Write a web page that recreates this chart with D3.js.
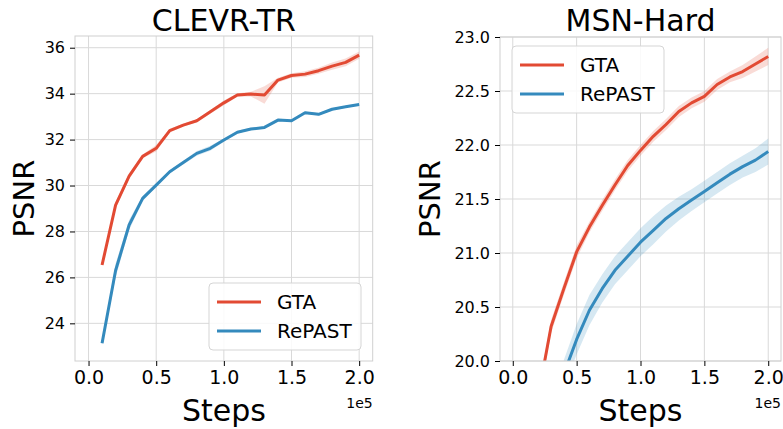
<!DOCTYPE html>
<html>
<head>
<meta charset="utf-8">
<script src="https://cdn.jsdelivr.net/npm/d3@7"></script>
<style>
  body { margin: 0; background: #fff; }
  text { font-family: "DejaVu Sans", sans-serif; fill: #000; }
</style>
</head>
<body>
<svg id="chart" width="783" height="429"></svg>
<script>
// training steps (shared by both panels)
const steps = [10000, 20000, 30000, 40000, 50000, 60000, 70000, 80000, 90000, 100000,
               110000, 120000, 130000, 140000, 150000, 160000, 170000, 180000, 190000, 200000];

// CLEVR-TR PSNR
const clevrGTA    = [26.54, 29.15, 30.41, 31.27, 31.62, 32.39, 32.63, 32.82, 33.21, 33.6,
                     33.94, 33.98, 33.94, 34.59, 34.79, 34.85, 35.0, 35.2, 35.36, 35.68];
const clevrGTAStd = [0.05, 0.14, 0.12, 0.08, 0.14, 0.08, 0.06, 0.07, 0.08, 0.1,
                     0.08, 0.1, 0.38, 0.1, 0.1, 0.12, 0.13, 0.16, 0.17, 0.16];
const clevrRePAST    = [23.13, 26.3, 28.28, 29.44, 30.02, 30.6, 31.0, 31.4, 31.62, 31.98,
                        32.32, 32.46, 32.53, 32.85, 32.82, 33.17, 33.1, 33.32, 33.43, 33.53];
const clevrRePASTStd = [0.06, 0.3, 0.22, 0.12, 0.07, 0.07, 0.08, 0.1, 0.11, 0.07,
                        0.06, 0.05, 0.05, 0.06, 0.05, 0.05, 0.05, 0.05, 0.04, 0.04];

// MSN-Hard PSNR
const msnGTA    = [18.9, 19.68, 20.32, 20.67, 21.01, 21.24, 21.44, 21.63, 21.81, 21.95,
                   22.08, 22.19, 22.31, 22.39, 22.45, 22.56, 22.63, 22.68, 22.75, 22.82];
const msnGTAStd = [0.06, 0.06, 0.06, 0.06, 0.06, 0.05, 0.05, 0.05, 0.05, 0.05,
                   0.05, 0.05, 0.05, 0.05, 0.05, 0.05, 0.05, 0.06, 0.07, 0.08];
const msnRePAST    = [18.0, 18.8, 19.4, 19.88, 20.2, 20.47, 20.67, 20.84, 20.97, 21.1,
                      21.21, 21.32, 21.41, 21.49, 21.57, 21.65, 21.73, 21.8, 21.86, 21.94];
const msnRePASTStd = [0.13, 0.13, 0.13, 0.13, 0.14, 0.14, 0.13, 0.13, 0.13, 0.13,
                      0.13, 0.12, 0.11, 0.1, 0.1, 0.1, 0.1, 0.1, 0.11, 0.12];

const xTicks = [0, 50000, 100000, 150000, 200000];
const clevrYTicks = [24, 26, 28, 30, 32, 34, 36];
const msnYTicks = [20.0, 20.5, 21.0, 21.5, 22.0, 22.5, 23.0];

const seriesNames = ["GTA", "RePAST"];
const colors = { "GTA": "#E24A33", "RePAST": "#348ABD" };

const svg = d3.select("#chart");

function drawPanel(p) {
    const x = d3.scaleLinear().domain([-10000, 210000]).range([p.left, p.right]);
    const y = d3.scaleLinear().domain(p.yDomain).range([p.bottom, p.top]);

    const g = svg.append("g");

    // gridlines
    g.selectAll(".vgrid").data(xTicks).enter().append("line")
        .attr("x1", d => x(d)).attr("x2", d => x(d))
        .attr("y1", p.top).attr("y2", p.bottom)
        .attr("stroke", "#d9d9d9").attr("stroke-width", 1);
    g.selectAll(".hgrid").data(p.yTicks).enter().append("line")
        .attr("x1", p.left).attr("x2", p.right)
        .attr("y1", d => y(d)).attr("y2", d => y(d))
        .attr("stroke", "#d9d9d9").attr("stroke-width", 1);

    // clip for data
    svg.append("clipPath").attr("id", "clip-" + p.id)
        .append("rect")
        .attr("x", p.left).attr("y", p.top)
        .attr("width", p.right - p.left).attr("height", p.bottom - p.top);

    const dg = g.append("g").attr("clip-path", "url(#clip-" + p.id + ")");

    seriesNames.forEach(name => {
        const vals = p.data[name], sd = p.std[name];
        const pts = steps.map((s, i) => ({ s: s, v: vals[i], sd: sd[i] }));
        const area = d3.area()
            .x(d => x(d.s))
            .y0(d => y(d.v - d.sd))
            .y1(d => y(d.v + d.sd));
        dg.append("path").datum(pts)
            .attr("d", area)
            .attr("fill", colors[name]).attr("fill-opacity", 0.2);
        const line = d3.line().x(d => x(d.s)).y(d => y(d.v));
        dg.append("path").datum(pts)
            .attr("d", line)
            .attr("fill", "none")
            .attr("stroke", colors[name])
            .attr("stroke-width", 3)
            .attr("stroke-linejoin", "round");
    });

    // spines
    g.append("rect")
        .attr("x", p.left).attr("y", p.top)
        .attr("width", p.right - p.left).attr("height", p.bottom - p.top)
        .attr("fill", "none").attr("stroke", "#d0d0d0").attr("stroke-width", 1);

    // axes
    const xAxis = g.append("g")
        .attr("transform", "translate(0," + p.bottom + ")")
        .call(d3.axisBottom(x).tickValues(xTicks).tickSize(5).tickPadding(5)
            .tickFormat(d => (d / 1e5).toFixed(1)));
    xAxis.select(".domain").remove();
    xAxis.selectAll("text").style("font-size", "19px").attr("fill", "#000");
    xAxis.selectAll("line").attr("stroke", "#000");

    const yAxis = g.append("g")
        .attr("transform", "translate(" + p.left + ",0)")
        .call(d3.axisLeft(y).tickValues(p.yTicks).tickSize(5).tickPadding(5)
            .tickFormat(p.yFormat));
    yAxis.select(".domain").remove();
    yAxis.selectAll("text").style("font-size", "16px").attr("fill", "#000");
    yAxis.selectAll("line").attr("stroke", "#000");

    // titles and labels
    const cx = (p.left + p.right) / 2;
    g.append("text").attr("x", cx).attr("y", 31)
        .attr("text-anchor", "middle").style("font-size", "30px").text(p.title);
    g.append("text").attr("x", cx).attr("y", 421)
        .attr("text-anchor", "middle").style("font-size", "30px").text("Steps");
    g.append("text").attr("x", p.right).attr("y", 408)
        .attr("text-anchor", "end").style("font-size", "14px").text("1e5");
    g.append("text")
        .attr("transform", "translate(" + p.ylabelX + "," + ((p.top + p.bottom) / 2) + ") rotate(-90)")
        .attr("text-anchor", "middle").style("font-size", "29px").text("PSNR");

    // legend
    const lg = g.append("g").attr("transform", "translate(" + p.legend[0] + "," + p.legend[1] + ")");
    lg.append("rect").attr("width", 152).attr("height", 67).attr("rx", 4)
        .attr("fill", "#fff").attr("fill-opacity", 0.85)
        .attr("stroke", "#d5d5d5").attr("stroke-width", 1);
    seriesNames.forEach((name, i) => {
        const yy = 19 + i * 29;
        lg.append("line").attr("x1", 8).attr("x2", 52).attr("y1", yy).attr("y2", yy)
            .attr("stroke", colors[name]).attr("stroke-width", 3);
        lg.append("text").attr("x", 68).attr("y", yy + 7)
            .style("font-size", "20px").text(name);
    });
}

drawPanel({
    id: "clevr", title: "CLEVR-TR",
    left: 75, right: 372.7, top: 36, bottom: 361,
    yDomain: [22.36, 36.51], yTicks: clevrYTicks, yFormat: d3.format("d"),
    data: { "GTA": clevrGTA, "RePAST": clevrRePAST },
    std: { "GTA": clevrGTAStd, "RePAST": clevrRePASTStd },
    ylabelX: 34, legend: [209, 283]
});

drawPanel({
    id: "msn", title: "MSN-Hard",
    left: 500, right: 781, top: 37, bottom: 361,
    yDomain: [20, 23], yTicks: msnYTicks, yFormat: d3.format(".1f"),
    data: { "GTA": msnGTA, "RePAST": msnRePAST },
    std: { "GTA": msnGTAStd, "RePAST": msnRePASTStd },
    ylabelX: 440, legend: [512, 46]
});
</script>
</body>
</html>
